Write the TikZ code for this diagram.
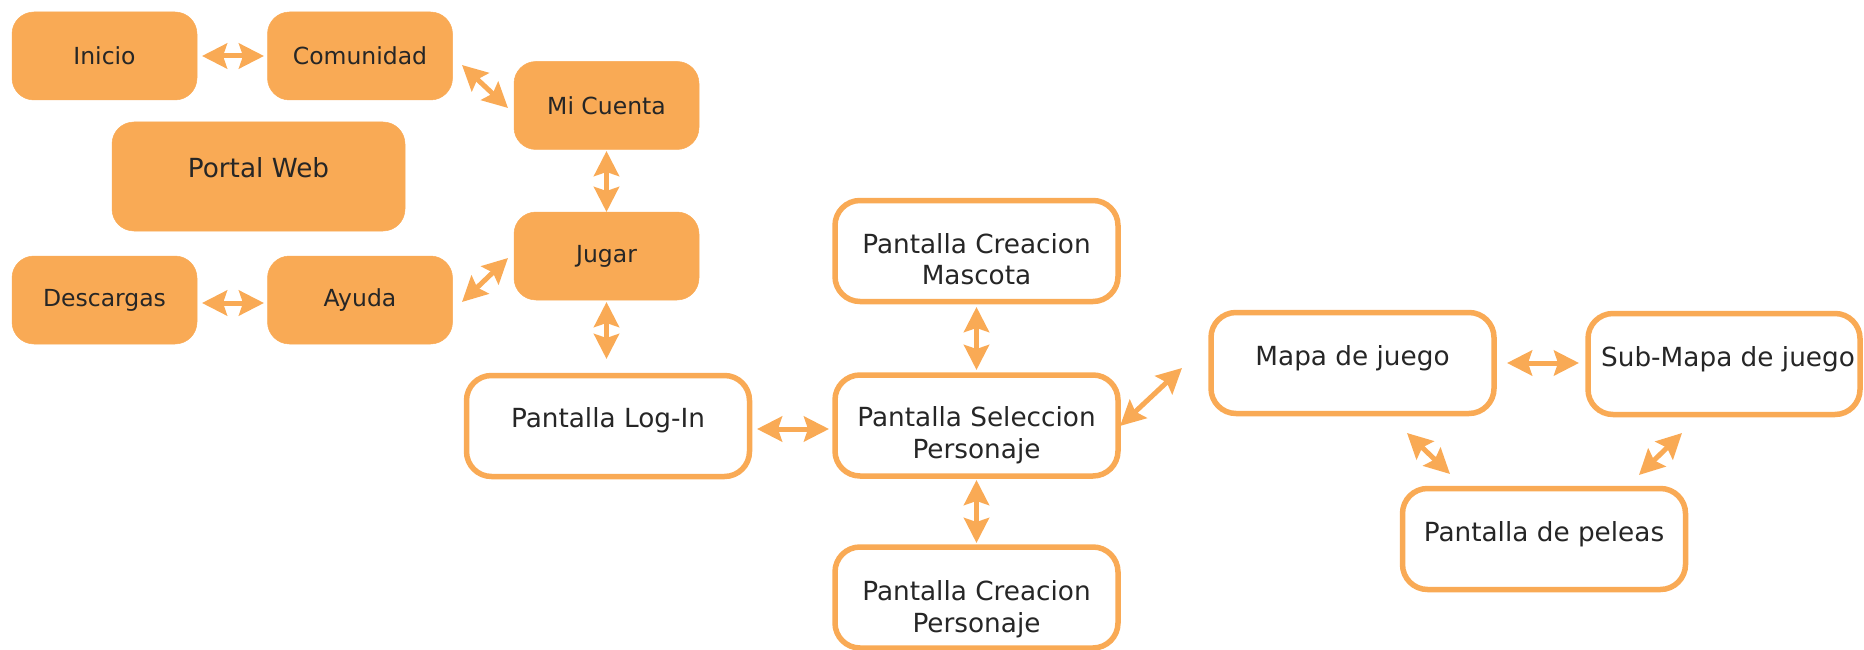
\documentclass[tikz,border=0pt]{standalone}
\usepackage{fontspec}
\setmainfont{DejaVu Sans}
\usetikzlibrary{arrows.meta,calc}
\definecolor{naranja}{HTML}{F9AA55}
\definecolor{tinta}{HTML}{262626}
\begin{document}
\begin{tikzpicture}[x=1pt,y=-1pt,
  menu/.style={fill=naranja, draw=naranja, line width=0.5pt, rounded corners=22pt,
    minimum width=185pt, minimum height=88pt, inner sep=0pt, text=tinta,
    font=\fontsize{23.5}{28}\selectfont},
  pantalla/.style={draw=naranja, fill=white, line width=5.5pt, rounded corners=25pt,
    minimum width=283pt, minimum height=101pt, inner sep=0pt},
  rotulo/.style={anchor=north, inner sep=0pt, align=center, text=tinta,
    font=\fontsize{26.3}{31.5}\selectfont},
  enlace/.style={draw=naranja, line width=5pt,
    {Stealth[length=25pt,width=25pt,inset=4pt]}-{Stealth[length=25pt,width=25pt,inset=4pt]}}
]
\useasboundingbox (0,0) rectangle (1864,650);

% portal web menu
\node[menu] (inicio) at (104.5,56) {Inicio};
\node[menu] (comunidad) at (360,56) {Comunidad};
\node[menu] (micuenta) at (606.5,105.5) {Mi Cuenta};
\node[menu, minimum width=293pt, minimum height=109pt] (portal) at (258.5,176.5) {};
\node[rotulo] (portaltxt) at ($(portal.north)+(0,34)$) {\strut Portal Web};
\node[menu] (jugar) at (606.5,256) {Jugar};
\node[menu] (descargas) at (104.5,300) {Descargas};
\node[menu] (ayuda) at (360,300) {Ayuda};

% game screens
\node[pantalla] (login) at (608,426) {};
\node[rotulo] (logintxt) at ($(login.north)+(0,32)$) {\strut Pantalla Log-In};
\node[pantalla] (mascota) at (976.5,251) {};
\node[rotulo] (mascotatxt) at ($(mascota.north)+(0,33)$) {\strut Pantalla Creacion\\Mascota};
\node[pantalla] (seleccion) at (976.5,425.5) {};
\node[rotulo] (selecciontxt) at ($(seleccion.north)+(0,32)$) {\strut Pantalla Seleccion\\Personaje};
\node[pantalla] (cpersonaje) at (976.5,597.5) {};
\node[rotulo] (cpersonajetxt) at ($(cpersonaje.north)+(0,34)$) {\strut Pantalla Creacion\\Personaje};
\node[pantalla] (mapa) at (1352.5,363) {};
\node[rotulo] (mapatxt) at ($(mapa.north)+(0,33)$) {\strut Mapa de juego};
\node[pantalla, minimum width=272pt] (submapa) at (1724,364) {};
\node[rotulo] (submapatxt) at ($(submapa.north)+(4,33)$) {\strut Sub-Mapa de juego};
\node[pantalla] (peleas) at (1544,539) {};
\node[rotulo] (peleastxt) at ($(peleas.north)+(0,33)$) {\strut Pantalla de peleas};

% connector ends
\coordinate (c1a) at (202,56);    \coordinate (c1b) at (264,56);
\coordinate (c2a) at (462,65);    \coordinate (c2b) at (508,108);
\coordinate (c3a) at (606.5,151); \coordinate (c3b) at (606.5,212);
\coordinate (c4a) at (508,258);   \coordinate (c4b) at (462,302);
\coordinate (c5a) at (202,303);   \coordinate (c5b) at (264,303);
\coordinate (c6a) at (606.5,302); \coordinate (c6b) at (606.5,359);
\coordinate (c7a) at (757,429);   \coordinate (c7b) at (829,429);
\coordinate (c8a) at (976.5,307); \coordinate (c8b) at (976.5,370);
\coordinate (c9a) at (976.5,480); \coordinate (c9b) at (976.5,543);
\coordinate (c10a) at (1120,426); \coordinate (c10b) at (1182,368);
\coordinate (c11a) at (1507,363); \coordinate (c11b) at (1579,363);
\coordinate (c12a) at (1407,433); \coordinate (c12b) at (1450,474);
\coordinate (c13a) at (1682,433); \coordinate (c13b) at (1639,475);

% connectors
\draw[enlace] (c1a) -- (c1b);
\draw[enlace] (c2a) -- (c2b);
\draw[enlace] (c3a) -- (c3b);
\draw[enlace] (c4a) -- (c4b);
\draw[enlace] (c5a) -- (c5b);
\draw[enlace] (c6a) -- (c6b);
\draw[enlace] (c7a) -- (c7b);
\draw[enlace] (c8a) -- (c8b);
\draw[enlace] (c9a) -- (c9b);
\draw[enlace] (c10a) -- (c10b);
\draw[enlace] (c11a) -- (c11b);
\draw[enlace] (c12a) -- (c12b);
\draw[enlace] (c13a) -- (c13b);
\end{tikzpicture}
\end{document}
